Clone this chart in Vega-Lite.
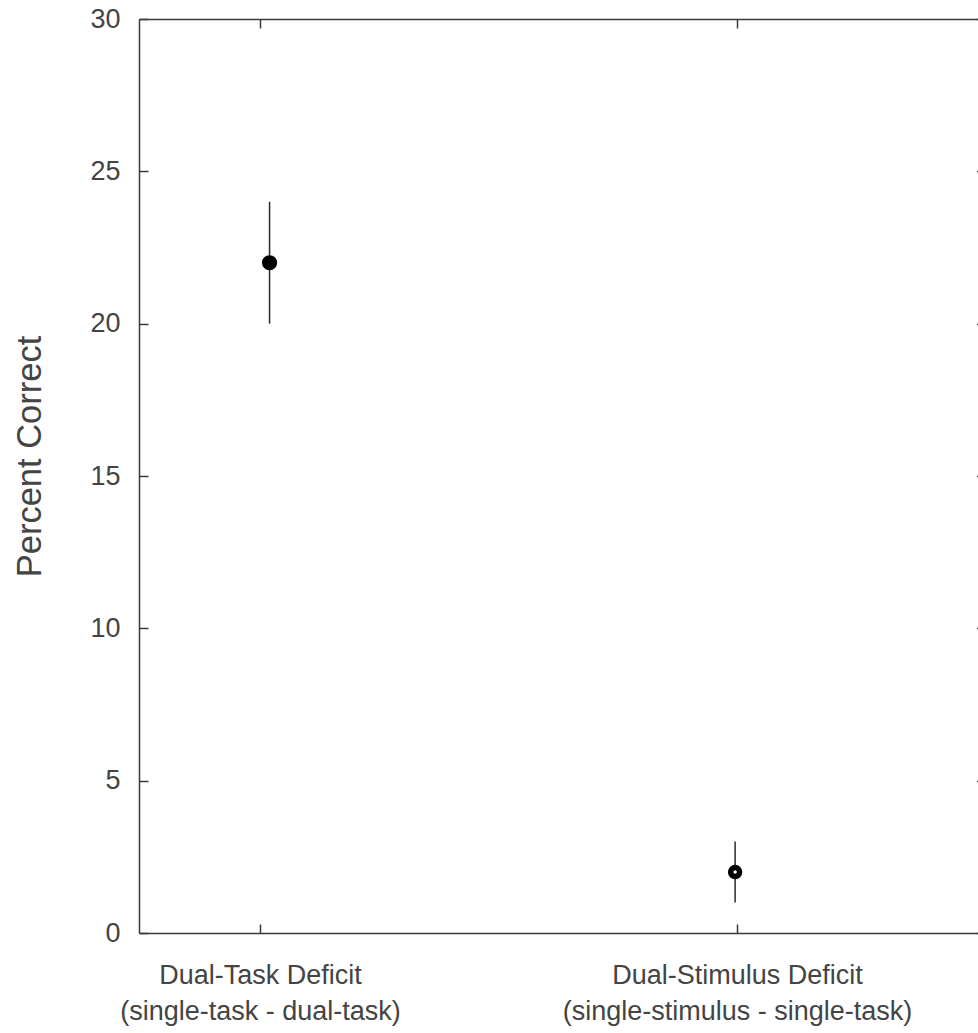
{
  "$schema": "https://vega.github.io/schema/vega-lite/v6.json",
  "autosize": {"type": "none"},
  "padding": {"left": 139, "top": 19, "right": 0, "bottom": 100},
  "width": 839,
  "height": 914,
  "background": "white",
  "config": {
    "view": {"stroke": null},
    "font": "Liberation Sans",
    "axis": {
      "domainColor": "#3a3a3a",
      "domainWidth": 1.5,
      "tickColor": "#3a3a3a",
      "tickWidth": 1.5,
      "grid": false,
      "labelColor": "#444444",
      "titleColor": "#444444",
      "labelFont": "Liberation Sans",
      "titleFont": "Liberation Sans",
      "labelLimit": 600
    }
  },
  "data": {
    "values": [
      {"deficit": "Dual-Task Deficit", "x": 1.02, "mean": 22, "lo": 20, "hi": 24},
      {"deficit": "Dual-Stimulus Deficit", "x": 1.996, "mean": 2, "lo": 1, "hi": 3}
    ]
  },
  "layer": [
    {
      "mark": {"type": "rule", "color": "#2a2a2a", "strokeWidth": 1.5},
      "encoding": {
        "x": {
          "field": "x", "type": "quantitative",
          "scale": {"domain": [0.7463, 2.5052], "nice": false, "zero": false},
          "axis": {
            "orient": "bottom", "title": null, "values": [1, 2],
            "tickSize": -9, "labelPadding": 38,
            "labelFontSize": 27, "labelLineHeight": 36,
            "labelAlign": "center", "labelBaseline": "top",
            "labelFlush": false, "labelOverlap": false, "labelLimit": 600,
            "labelExpr": "datum.value == 1 ? ['Dual-Task Deficit', '(single-task - dual-task)'] : ['Dual-Stimulus Deficit', '(single-stimulus - single-task)']"
          }
        },
        "y": {
          "field": "lo", "type": "quantitative",
          "scale": {"domain": [0, 30], "nice": false, "zero": false},
          "axis": {
            "orient": "left", "values": [0, 5, 10, 15, 20, 25, 30],
            "tickSize": -9, "labelPadding": 28, "labelFontSize": 27,
            "title": "Percent Correct", "titleFontSize": 34.5, "titleFontWeight": "normal",
            "titlePadding": 42, "titleY": 437
          }
        },
        "y2": {"field": "hi"}
      }
    },
    {
      "transform": [{"filter": "datum.deficit == 'Dual-Task Deficit'"}],
      "mark": {"type": "point", "filled": true, "color": "black", "size": 230, "opacity": 1},
      "encoding": {
        "x": {
          "field": "x", "type": "quantitative",
          "axis": {"orient": "top", "values": [1, 2], "labels": false, "title": null, "tickSize": -9}
        },
        "y": {
          "field": "mean", "type": "quantitative",
          "axis": {"orient": "right", "values": [0, 5, 10, 15, 20, 25, 30], "labels": false, "title": null, "tickSize": -1.5, "domain": false}
        }
      }
    },
    {
      "transform": [{"filter": "datum.deficit == 'Dual-Stimulus Deficit'"}],
      "mark": {"type": "point", "filled": false, "fill": "white", "stroke": "black", "strokeWidth": 5.5, "size": 80, "opacity": 1},
      "encoding": {
        "x": {"field": "x", "type": "quantitative", "axis": null},
        "y": {"field": "mean", "type": "quantitative", "axis": null}
      }
    }
  ],
  "resolve": {"axis": {"x": "independent", "y": "independent"}}
}
